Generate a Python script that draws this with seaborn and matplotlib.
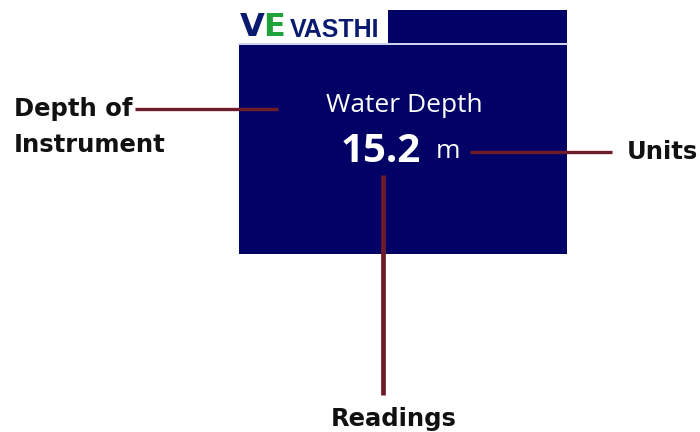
import matplotlib
matplotlib.use("Agg")
import matplotlib.pyplot as plt
import matplotlib.patches as mpatches
import pandas as pd
import seaborn as sns

# screen content
screen_title = "Water Depth"
screen_value = "15.2"
screen_unit = "m"
brand_mark = ["V", "E"]
brand_name = "VASTHI"

# callout labels
callout_labels = ["Depth of\nInstrument", "Units", "Readings"]

NAVY = "#020266"
LEADER = "#6e1b2a"
GREEN = "#1fa33a"

sns.set_theme(style="white")
plt.rcParams["font.family"] = ["Open Sans", "DejaVu Sans"]

fig = plt.figure(figsize=(7, 4.32), dpi=100)
ax = fig.add_axes([0, 0, 1, 1])

# display panel
ax.add_patch(mpatches.Rectangle((239, 45), 328, 209, color=NAVY, lw=0))
ax.add_patch(mpatches.Rectangle((388, 10), 179, 33, color=NAVY, lw=0))
ax.plot([239, 567], [44, 44], color="#c8c8ee", lw=1.2)

# logo
ax.text(240, 28, brand_mark[0], color="#0a1a6e", fontsize=23, fontweight="bold",
        ha="left", va="center", family="DejaVu Sans")
ax.text(263, 28, brand_mark[1], color=GREEN, fontsize=23, fontweight="bold",
        ha="left", va="center", family="DejaVu Sans")
ax.text(290, 30, brand_name, color="#0a1a6e", fontsize=18, fontweight="semibold",
        ha="left", va="center", family="Liberation Sans")

# screen text
ax.text(404, 106, screen_title, color="white", fontsize=19, ha="center", va="center")
ax.text(381, 151, screen_value, color="white", fontsize=29, fontweight="bold",
        ha="center", va="center")
ax.text(448, 152, screen_unit, color="white", fontsize=19, ha="center", va="center")

# leader lines
leaders = pd.DataFrame({
    "x": [135, 278, 470, 612, 383, 383],
    "y": [109, 109, 152, 152, 175, 395],
    "seg": ["a", "a", "b", "b", "c", "c"],
})
for seg, lw in zip(["a", "b", "c"], [2.4, 2.4, 3.4]):
    sns.lineplot(data=leaders[leaders.seg == seg], x="x", y="y", color=LEADER,
                 lw=lw, ax=ax, sort=False, estimator=None, solid_capstyle="butt")
ax.set_xlim(0, 700)
ax.set_ylim(432, 0)
ax.axis("off")

# callout text
ax.text(14, 127, callout_labels[0], color="#111111", fontsize=17.5, fontweight="bold",
        ha="left", va="center", linespacing=1.6, family="DejaVu Sans")
ax.text(627, 152, callout_labels[1], color="#111111", fontsize=17.5, fontweight="bold",
        ha="left", va="center", family="DejaVu Sans")
ax.text(394, 419, callout_labels[2], color="#111111", fontsize=17.5, fontweight="bold",
        ha="center", va="center", family="DejaVu Sans")

fig.savefig("out.png", dpi=100)
